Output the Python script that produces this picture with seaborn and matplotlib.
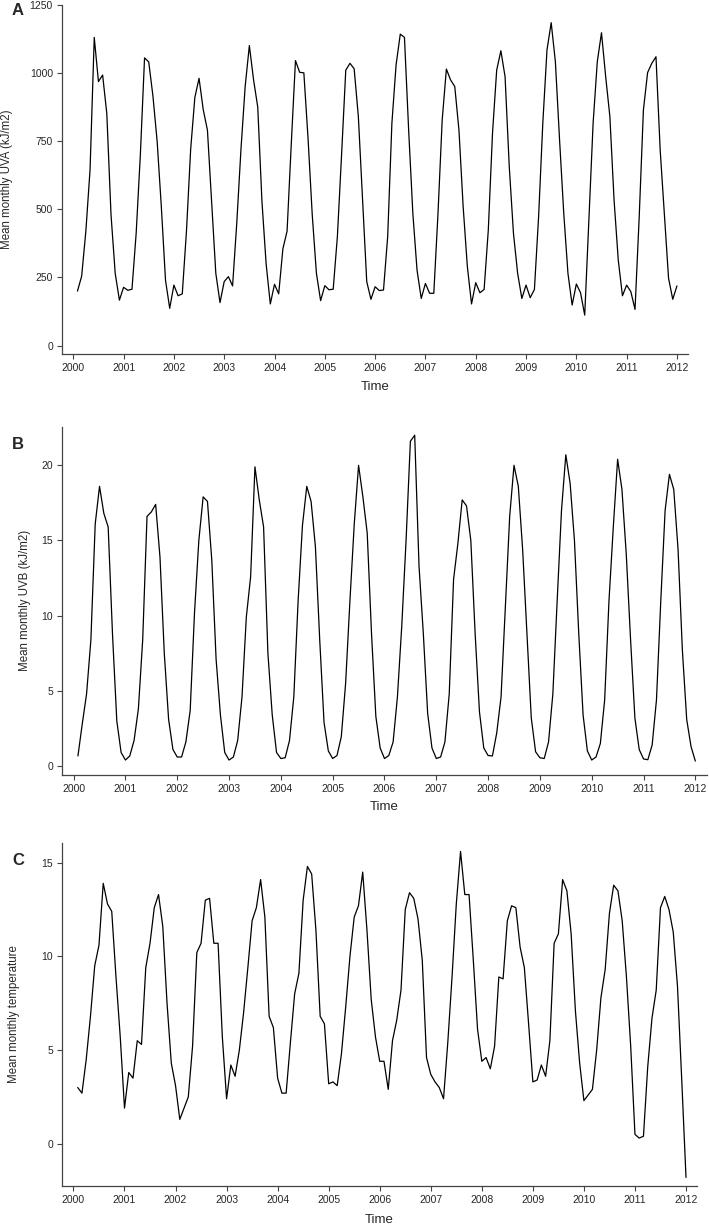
import numpy as np
import pandas as pd
import seaborn as sns
import matplotlib
matplotlib.use("Agg")
import matplotlib.pyplot as plt

# monthly series, Feb 2000 .. Jan 2012
uva = [200, 255, 420, 645, 1130, 968, 992, 850, 480, 265, 167,
       214, 203, 207, 412, 700, 1055, 1040, 915, 750, 510, 240, 137,
       222, 183, 190, 420, 720, 910, 980, 865, 790, 530, 265, 158,
       235, 253, 219, 450, 720, 950, 1100, 975, 875, 530, 300, 153,
       225, 190, 355, 420, 740, 1045, 1002, 1000, 760, 480, 265, 165,
       220, 205, 207, 400, 700, 1010, 1035, 1015, 840, 534, 235, 170,
       216, 202, 204, 400, 815, 1029, 1142, 1130, 790, 485, 277, 173,
       228, 192, 192, 485, 827, 1014, 974, 950, 790, 510, 290, 153,
       231, 194, 206, 424, 778, 1010, 1081, 986, 656, 412, 265, 173,
       222, 176, 206, 473, 815, 1084, 1184, 1041, 754, 485, 265, 149,
       226, 194, 112, 461, 815, 1041, 1147, 986, 840, 534, 314, 183,
       222, 198, 133, 473, 864, 1001, 1035, 1059, 717, 480, 247, 170,
       219]

uvb = [0.67, 2.8, 4.8, 8.4, 16.1, 18.6, 16.8, 15.9, 8.8, 3.0, 0.9,
       0.4, 0.67, 1.7, 3.8, 8.4, 16.6, 16.9, 17.4, 13.9, 7.5, 3.1, 1.1,
       0.6, 0.6, 1.6, 3.7, 10.2, 15.0, 17.9, 17.6, 13.7, 7.1, 3.4, 0.9,
       0.4, 0.6, 1.7, 4.6, 9.9, 12.6, 19.9, 17.7, 15.9, 7.5, 3.4, 0.9,
       0.5, 0.55, 1.7, 4.6, 11.0, 16.0, 18.6, 17.6, 14.6, 8.4, 2.9, 1.0,
       0.5, 0.7, 1.95, 5.5, 11.0, 16.1, 20.0, 17.9, 15.5, 8.8, 3.3, 1.2,
       0.5, 0.7, 1.6, 4.6, 9.3, 15.0, 21.6, 22.0, 13.3, 8.8, 3.5, 1.2,
       0.5, 0.6, 1.6, 4.8, 12.4, 14.8, 17.7, 17.3, 15.0, 8.8, 3.6, 1.2,
       0.7, 0.67, 2.2, 4.6, 10.6, 16.6, 20.0, 18.6, 14.4, 8.8, 3.2, 0.95,
       0.55, 0.5, 1.6, 4.8, 11.0, 17.0, 20.7, 18.8, 15.0, 8.8, 3.4, 1.0,
       0.4, 0.6, 1.5, 4.4, 11.0, 15.9, 20.4, 18.4, 14.1, 8.4, 3.2, 1.1,
       0.47, 0.42, 1.4, 4.4, 11.0, 17.0, 19.4, 18.4, 14.4, 7.7, 3.1, 1.3,
       0.33]

temp = [3.0, 2.7, 4.5, 6.8, 9.5, 10.6, 13.9, 12.8, 12.4, 8.9, 5.7,
        1.9, 3.8, 3.5, 5.5, 5.3, 9.4, 10.7, 12.6, 13.3, 11.6, 7.5, 4.3,
        3.1, 1.3, 1.9, 2.5, 5.2, 10.2, 10.7, 13.0, 13.1, 10.7, 10.7, 5.7,
        2.4, 4.2, 3.6, 5.0, 7.0, 9.4, 11.9, 12.6, 14.1, 12.1, 6.8, 6.2,
        3.5, 2.7, 2.7, 5.4, 8.0, 9.1, 13.0, 14.8, 14.4, 11.4, 6.8, 6.4,
        3.2, 3.3, 3.1, 4.8, 7.3, 10.0, 12.1, 12.7, 14.5, 11.4, 7.7, 5.7,
        4.4, 4.4, 2.9, 5.5, 6.6, 8.2, 12.5, 13.4, 13.1, 12.0, 9.8, 4.6,
        3.7, 3.3, 3.0, 2.4, 5.4, 8.9, 12.8, 15.6, 13.3, 13.3, 9.8, 6.1,
        4.4, 4.6, 4.0, 5.2, 8.9, 8.8, 11.9, 12.7, 12.6, 10.5, 9.4, 6.4,
        3.3, 3.4, 4.2, 3.6, 5.5, 10.7, 11.2, 14.1, 13.5, 11.2, 7.1, 4.3,
        2.3, 2.6, 2.9, 5.0, 7.8, 9.3, 12.3, 13.8, 13.5, 11.9, 8.9, 5.2,
        0.5, 0.3, 0.4, 4.1, 6.7, 8.2, 12.6, 13.2, 12.5, 11.3, 8.4, 3.4,
        -1.8]

dates = pd.date_range("2000-02-01", periods=len(uva), freq="MS")
time = dates.year + (dates.month - 1) / 12.0

year_ticks = list(range(2000, 2013))

sns.set_style("ticks")
plt.rcParams["font.family"] = ["Liberation Sans", "DejaVu Sans"]

fig = plt.figure(figsize=(7.09, 12.25), dpi=100)

panels = [
    # letter, values, ylabel, yticks, ylim, axes rect, ylabel x, xlabel y
    ("A", uva, "Mean monthly UVA (kJ/m2)", [0, 250, 500, 750, 1000, 1250],
     (-31.5, 1250), [0.0874, 0.7108, 0.883, 0.2854], -0.0775, -0.077),
    ("B", uvb, "Mean monthly UVB (kJ/m2)", [0, 5, 10, 15, 20],
     (-0.6, 22.57), [0.0874, 0.3673, 0.9094, 0.2844], -0.0473, -0.075),
    ("C", temp, "Mean monthly temperature", [0, 5, 10, 15],
     (-2.26, 16.07), [0.0874, 0.0318, 0.896, 0.2803], -0.0653, -0.081),
]

for letter, vals, ylab, yt, yl, rect, ylx, xly in panels:
    ax = fig.add_axes(rect)
    df = pd.DataFrame({"Time": time, "value": vals})
    sns.lineplot(data=df, x="Time", y="value", ax=ax, color="black",
                 linewidth=0.9)
    ax.set_xlim(1999.775, 2012.22)
    ax.set_ylim(*yl)
    ax.set_xticks(year_ticks)
    ax.set_yticks(yt)
    ax.set_ylabel(ylab, fontsize=8.3)
    ax.set_xlabel("Time", fontsize=9.5)
    ax.yaxis.set_label_coords(ylx, 0.5)
    ax.xaxis.set_label_coords(0.5, xly)
    ax.tick_params(labelsize=7.5, length=3.5, width=0.8, color="#444444",
                   pad=3)
    for side in ["top", "right"]:
        ax.spines[side].set_visible(False)
    for side in ["left", "bottom"]:
        ax.spines[side].set_color("#444444")
        ax.spines[side].set_linewidth(0.9)
    fig.text(0.017, rect[1] + rect[3] + (0.001 if letter == "A" else -0.0085),
             letter, fontsize=12, fontweight="bold", va="top")

fig.savefig("out.png", dpi=100)
